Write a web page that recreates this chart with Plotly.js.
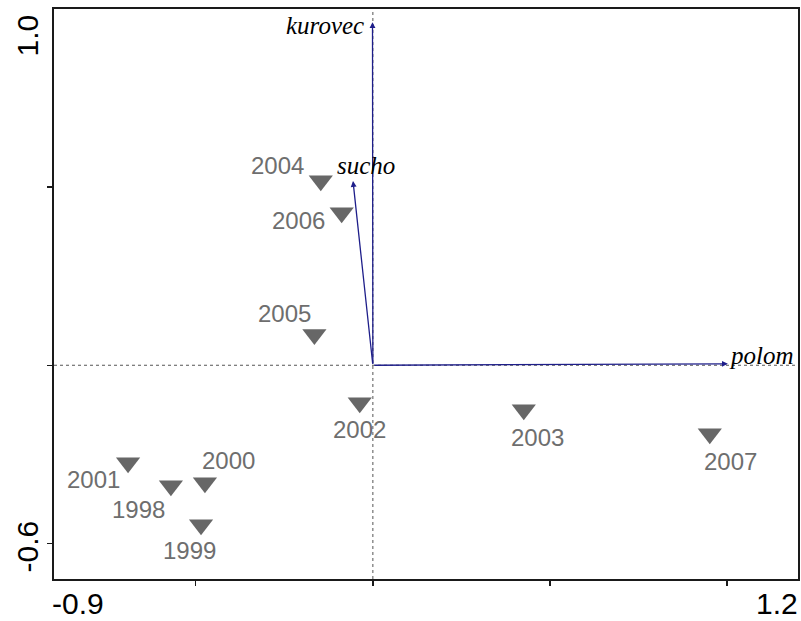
<!DOCTYPE html>
<html>
<head>
<meta charset="utf-8">
<script src="https://cdn.plot.ly/plotly-3.0.1.min.js"></script>
<style>html,body{margin:0;padding:0;background:#fff;}#chart{width:801px;height:621px;}</style>
</head>
<body>
<div id="chart"></div>
<script>
// Sample scores (years)
const years  = ['1998','1999','2000','2001','2002','2003','2004','2005','2006','2007'];
const sampleX = [-0.570, -0.485, -0.474, -0.691, -0.037, 0.426, -0.147, -0.165, -0.088, 0.951];
const sampleY = [-0.338, -0.448, -0.330, -0.274, -0.105, -0.125, 0.518, 0.086, 0.428, -0.192];

// Environmental variable arrows
const envNames = ['kurovec', 'sucho', 'polom'];
const envX = [-0.001, -0.056, 1.002];
const envY = [0.963, 0.517, 0.004];

// Axis end labels
const xRange = [-0.9, 1.2];
const yRange = [-0.6, 1.0];
const xTickLabels = ['-0.9', '1.2'];
const yTickLabels = ['-0.6', '1.0'];

// label offsets in pixels (style only)
const yearLabelShift = {
  '1998': [-32, -23.5], '1999': [-12, -25.5], '2000': [24, 22.5], '2001': [-35, -16.5],
  '2002': [0, -26.5], '2003': [14, -27.5], '2004': [-43, 15.5], '2005': [-29.5, 21.5],
  '2006': [-43, -7.5], '2007': [21, -27.5]
};
const envLabelStyle = {
  kurovec: {xanchor: 'right', xshift: -7, yshift: -3},
  sucho:   {xanchor: 'left',  xshift: -18, yshift: 16},
  polom:   {xanchor: 'left',  xshift: -1, yshift: 8}
};

const gray = '#6e6e6e';
const arrowColor = '#1e1e8a';

const traces = [{
  type: 'scatter', mode: 'markers',
  x: sampleX, y: sampleY, text: years,
  marker: {symbol: 'triangle-down', size: 21, color: '#676767', line: {width: 0}},
  hoverinfo: 'text', showlegend: false
}];

const annotations = [];
// year labels
years.forEach((yr, i) => {
  const s = yearLabelShift[yr];
  annotations.push({
    x: sampleX[i], y: sampleY[i], xref: 'x', yref: 'y', text: yr, showarrow: false,
    xanchor: 'center', yanchor: 'middle', xshift: s[0], yshift: s[1],
    font: {family: 'Liberation Sans, Arial, sans-serif', size: 24, color: gray}
  });
});
// arrows
envNames.forEach((nm, i) => {
  annotations.push({
    x: envX[i], y: envY[i], ax: 0, ay: 0, xref: 'x', yref: 'y', axref: 'x', ayref: 'y',
    text: '', showarrow: true, arrowhead: 2, arrowsize: 0.9, arrowwidth: 1.3,
    arrowcolor: arrowColor, standoff: 0, startstandoff: 0
  });
  const st = envLabelStyle[nm];
  annotations.push({
    x: envX[i], y: envY[i], xref: 'x', yref: 'y', text: '<i>' + nm + '</i>', showarrow: false,
    xanchor: st.xanchor, yanchor: 'middle', xshift: st.xshift, yshift: st.yshift,
    font: {family: 'Liberation Serif, Times New Roman, serif', size: 25, color: '#000'}
  });
});
// axis end labels
const tickFont = {family: 'Liberation Sans, Arial, sans-serif', size: 30, color: '#000'};
annotations.push({xref: 'paper', yref: 'paper', x: 0, y: 0, text: xTickLabels[0], showarrow: false,
  xanchor: 'left', yanchor: 'bottom', xshift: -3, yshift: -42, borderpad: 0, font: tickFont});
annotations.push({xref: 'paper', yref: 'paper', x: 1, y: 0, text: xTickLabels[1], showarrow: false,
  xanchor: 'right', yanchor: 'bottom', xshift: 1, yshift: -42, borderpad: 0, font: tickFont});
annotations.push({xref: 'paper', yref: 'paper', x: 0, y: 0, text: yTickLabels[0], showarrow: false,
  textangle: -90, xanchor: 'center', yanchor: 'bottom', xshift: -27.5, yshift: 4, font: tickFont});
annotations.push({xref: 'paper', yref: 'paper', x: 0, y: 1, text: yTickLabels[1], showarrow: false,
  textangle: -90, xanchor: 'center', yanchor: 'top', xshift: -27.5, yshift: -4, font: tickFont});

const layout = {
  width: 801, height: 621,
  margin: {l: 54, r: 3, t: 9, b: 42, pad: 0},
  paper_bgcolor: '#fff', plot_bgcolor: '#fff',
  showlegend: false,
  xaxis: {range: xRange, showgrid: false, zeroline: false, showline: true, mirror: true,
    linecolor: '#1a1a1a', linewidth: 2, ticks: 'outside', ticklen: 5, tickwidth: 1.5, tickcolor: '#1a1a1a',
    tickvals: [-0.5, 0, 0.5, 1.0], showticklabels: false, fixedrange: true},
  yaxis: {range: yRange, showgrid: false, zeroline: false, showline: true, mirror: true,
    linecolor: '#1a1a1a', linewidth: 2, ticks: 'outside', ticklen: 5, tickwidth: 1.5, tickcolor: '#1a1a1a',
    tickvals: [-0.5, 0, 0.5], showticklabels: false, fixedrange: true},
  shapes: [
    {type: 'line', xref: 'x', yref: 'paper', x0: 0, x1: 0, y0: 0, y1: 1,
     line: {color: '#555', width: 1, dash: 'dot'}, layer: 'below'},
    {type: 'line', xref: 'paper', yref: 'y', x0: 0, x1: 1, y0: 0, y1: 0,
     line: {color: '#555', width: 1, dash: 'dot'}, layer: 'below'}
  ],
  annotations: annotations
};

Plotly.newPlot('chart', traces, layout, {displayModeBar: false, staticPlot: true});
</script>
</body>
</html>
